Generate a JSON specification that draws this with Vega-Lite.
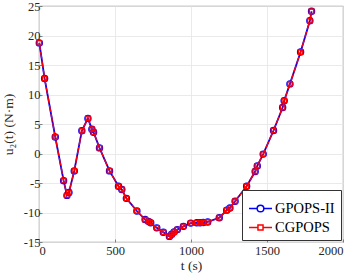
{
  "$schema": "https://vega.github.io/schema/vega-lite/v6.json",
  "width": 304,
  "height": 236,
  "autosize": {"type": "none"},
  "padding": {"left": 39, "top": 6, "right": 12, "bottom": 35},
  "background": "white",
  "config": {
    "view": {"stroke": "#666666", "strokeWidth": 0.8},
    "font": "Liberation Serif"
  },
  "datasets": {
    "pts": [
      {"t": 2, "u": 18.75}, {"t": 37, "u": 12.7}, {"t": 107, "u": 2.8}, {"t": 162, "u": -4.6},
      {"t": 184, "u": -7.1}, {"t": 197, "u": -6.6}, {"t": 232, "u": -2.95}, {"t": 282, "u": 3.85},
      {"t": 322, "u": 5.95}, {"t": 348, "u": 4.1}, {"t": 359, "u": 3.6}, {"t": 398, "u": 0.95},
      {"t": 464, "u": -2.95}, {"t": 523, "u": -5.55}, {"t": 545, "u": -6.1}, {"t": 575, "u": -7.6},
      {"t": 644, "u": -9.75}, {"t": 698, "u": -11.2}, {"t": 720, "u": -11.5}, {"t": 735, "u": -11.75},
      {"t": 775, "u": -12.6}, {"t": 818, "u": -13.35}, {"t": 858, "u": -14.05}, {"t": 873, "u": -13.7},
      {"t": 889, "u": -13.3}, {"t": 910, "u": -12.9}, {"t": 950, "u": -12.35}, {"t": 998, "u": -11.8},
      {"t": 1038, "u": -11.75}, {"t": 1060, "u": -11.75}, {"t": 1081, "u": -11.7}, {"t": 1110, "u": -11.6},
      {"t": 1186, "u": -10.9}, {"t": 1235, "u": -9.6}, {"t": 1256, "u": -9.25}, {"t": 1290, "u": -8.1},
      {"t": 1366, "u": -5.55}, {"t": 1422, "u": -3.05}, {"t": 1436, "u": -2.1}, {"t": 1475, "u": -0.1},
      {"t": 1543, "u": 3.9}, {"t": 1603, "u": 7.8}, {"t": 1613, "u": 8.95}, {"t": 1651, "u": 11.8},
      {"t": 1721, "u": 17.2}, {"t": 1782, "u": 22.5}, {"t": 1793, "u": 24.1}
    ]
  },
  "data": {"name": "pts"},
  "encoding": {
    "x": {
      "field": "t", "type": "quantitative",
      "scale": {"domain": [0, 2000], "nice": false, "zero": false},
      "axis": {
        "values": [0, 500, 1000, 1500, 2000], "format": "d", "title": "t (s)",
        "domain": false, "grid": true, "gridColor": "#e4e4e4", "gridWidth": 0.8,
        "tickColor": "#666666", "tickWidth": 0.8, "tickSize": -3,
        "labelFont": "Liberation Serif", "labelFontSize": 12.5, "labelColor": "#262626", "labelPadding": 5,
        "titleFont": "Liberation Serif", "titleFontSize": 13.5, "titleFontWeight": "normal", "titleColor": "#262626", "titlePadding": 2
      }
    },
    "y": {
      "field": "u", "type": "quantitative",
      "scale": {"domain": [-15, 25], "nice": false, "zero": false},
      "axis": {
        "values": [-15, -10, -5, 0, 5, 10, 15, 20, 25],
        "labelExpr": "datum.value < 0 ? '-' + abs(datum.value) : '' + datum.value",
        "title": "u₂(t) (N·m)",
        "domain": false, "grid": true, "gridColor": "#e4e4e4", "gridWidth": 0.8,
        "tickColor": "#666666", "tickWidth": 0.8, "tickSize": -3,
        "labelFont": "Liberation Serif", "labelFontSize": 12.5, "labelColor": "#262626", "labelPadding": 2,
        "titleFont": "Liberation Serif", "titleFontSize": 13.5, "titleFontWeight": "normal", "titleColor": "#262626", "titlePadding": 8
      }
    }
  },
  "layer": [
    {
      "mark": {"type": "line", "color": "#0000ff", "strokeWidth": 1.8}
    },
    {
      "mark": {"type": "point", "shape": "circle", "filled": false, "color": "#0000ff", "size": 34, "strokeWidth": 1.6, "opacity": 1}
    },
    {
      "mark": {"type": "line", "color": "#ff0000", "strokeWidth": 1.3, "strokeDash": [7, 2]}
    },
    {
      "mark": {"type": "point", "shape": "square", "filled": false, "color": "#ff0000", "size": 20, "strokeWidth": 1.4, "opacity": 1}
    },
    {
      "transform": [{"filter": "datum.t < -100"}, {"calculate": "'GPOPS-II'", "as": "series"}],
      "mark": {"type": "point", "filled": false, "opacity": 1},
      "encoding": {
        "color": {
          "field": "series", "type": "nominal",
          "scale": {"domain": ["GPOPS-II", "CGPOPS"], "range": ["#0000ff", "#ff0000"]},
          "legend": {
            "orient": "bottom-right",
            "offset": 2,
            "title": null,
            "strokeColor": "#333333",
            "fillColor": "white",
            "padding": 6,
            "labelFont": "Liberation Serif",
            "labelFontSize": 14.5,
            "labelColor": "#000000",
            "symbolSize": 529,
            "symbolStrokeWidth": 1.5,
            "symbolFillColor": "transparent",
            "symbolOpacity": 1,
            "rowPadding": -9,
            "labelOffset": 2
          }
        },
        "shape": {
          "field": "series", "type": "nominal",
          "scale": {
            "domain": ["GPOPS-II", "CGPOPS"],
            "range": [
              "M-1,0L-0.29,0M0.29,0L1,0M-0.29,0A0.29,0.29,0,1,1,0.29,0A0.29,0.29,0,1,1,-0.29,0",
              "M-1,0L-0.22,0M0.22,0L1,0M-0.22,-0.22L0.22,-0.22L0.22,0.22L-0.22,0.22Z"
            ]
          },
          "legend": {"title": null}
        }
      }
    }
  ]
}
